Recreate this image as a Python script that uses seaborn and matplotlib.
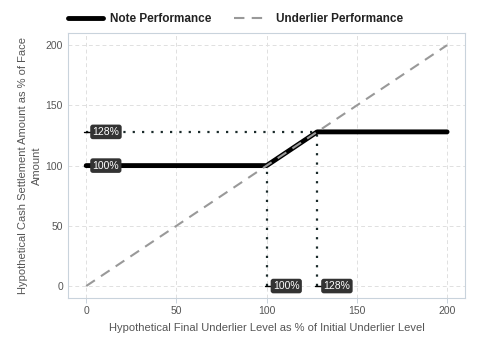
import matplotlib
matplotlib.use("Agg")
import matplotlib.pyplot as plt
import seaborn as sns
import pandas as pd
from matplotlib.lines import Line2D

note_x = [0, 100, 128, 200]
note_y = [100, 100, 128, 128]
under_x = [0, 200]
under_y = [0, 200]
cap_level = 128
threshold = 100
ticks = [0, 50, 100, 150, 200]

sns.set_theme(style="white")
plt.rcParams['font.family'] = ['Liberation Sans', 'DejaVu Sans']

fig = plt.figure(figsize=(4.8, 3.6), dpi=100)
ax = fig.add_axes([0.142, 0.172, 0.827, 0.736])

for t in ticks:
    ax.axvline(t, color="#e0e0e0", lw=0.7, ls=(0, (4, 3)), zorder=0)
    ax.axhline(t, color="#e0e0e0", lw=0.7, ls=(0, (4, 3)), zorder=0)

dot_col = "#1a2a2a"
ax.plot([0, cap_level], [cap_level, cap_level], color=dot_col, lw=1.6, ls=(0, (1, 3.2)), zorder=2)
ax.plot([threshold, threshold], [0, threshold], color=dot_col, lw=1.6, ls=(0, (1, 3.2)), zorder=2)
ax.plot([cap_level, cap_level], [0, cap_level], color=dot_col, lw=1.6, ls=(0, (1, 3.2)), zorder=2)

sns.lineplot(x=note_x, y=note_y, ax=ax, color="black", lw=3.5, sort=False, zorder=3)
sns.lineplot(x=under_x, y=under_y, ax=ax, color="#999999", lw=1.5, ls=(0, (5, 3.5)), sort=False, zorder=4)

box = dict(boxstyle="round,pad=0.22,rounding_size=0.25", fc="#333333", ec="none")
labels = [(0, cap_level, "128%"), (0, threshold, "100%"), (threshold, 0, "100%"), (cap_level, 0, "128%")]
for x, y, s in labels:
    ax.plot([x - 1, x + 3], [y, y], color="black", lw=1, zorder=5)
    ax.text(x + 3.5, y, s, color="white", fontsize=7.5, ha="left", va="center", bbox=box, zorder=6)

ax.set_xlim(-10, 210)
ax.set_ylim(-10, 210)
ax.set_xticks(ticks)
ax.set_yticks(ticks)
ax.tick_params(axis="x", bottom=True, colors="#555555", labelsize=7.5, length=3.5, width=0.7, pad=2)
ax.tick_params(axis="x", color="#c9d3dc")
ax.tick_params(axis="y", left=False, length=0, colors="#555555", labelsize=7.5, pad=3.8)
for sp in ax.spines.values():
    sp.set_color("#c9d3dc")
    sp.set_linewidth(0.8)
ax.set_xlabel("Hypothetical Final Underlier Level as % of Initial Underlier Level", fontsize=8, color="#555555", labelpad=5)
ax.set_ylabel("Hypothetical Cash Settlement Amount as % of Face\nAmount", fontsize=8, color="#555555",
              linespacing=1.5)
ax.yaxis.set_label_coords(-0.066, 0.5)

handles = [Line2D([0], [0], color="black", lw=3.5),
           Line2D([0], [0], color="#999999", lw=1.5, ls=(0, (5, 3.5)))]
fig.legend(handles, ["Note Performance", "Underlier Performance"], loc="center left",
           bbox_to_anchor=(0.141, 0.947), ncol=2, frameon=False, handlelength=3.0,
           handletextpad=0.6, columnspacing=1.9, prop={"weight": "bold", "size": 8.5},
           labelcolor="#222222", borderpad=0, borderaxespad=0)

fig.savefig("out.png", dpi=100)
